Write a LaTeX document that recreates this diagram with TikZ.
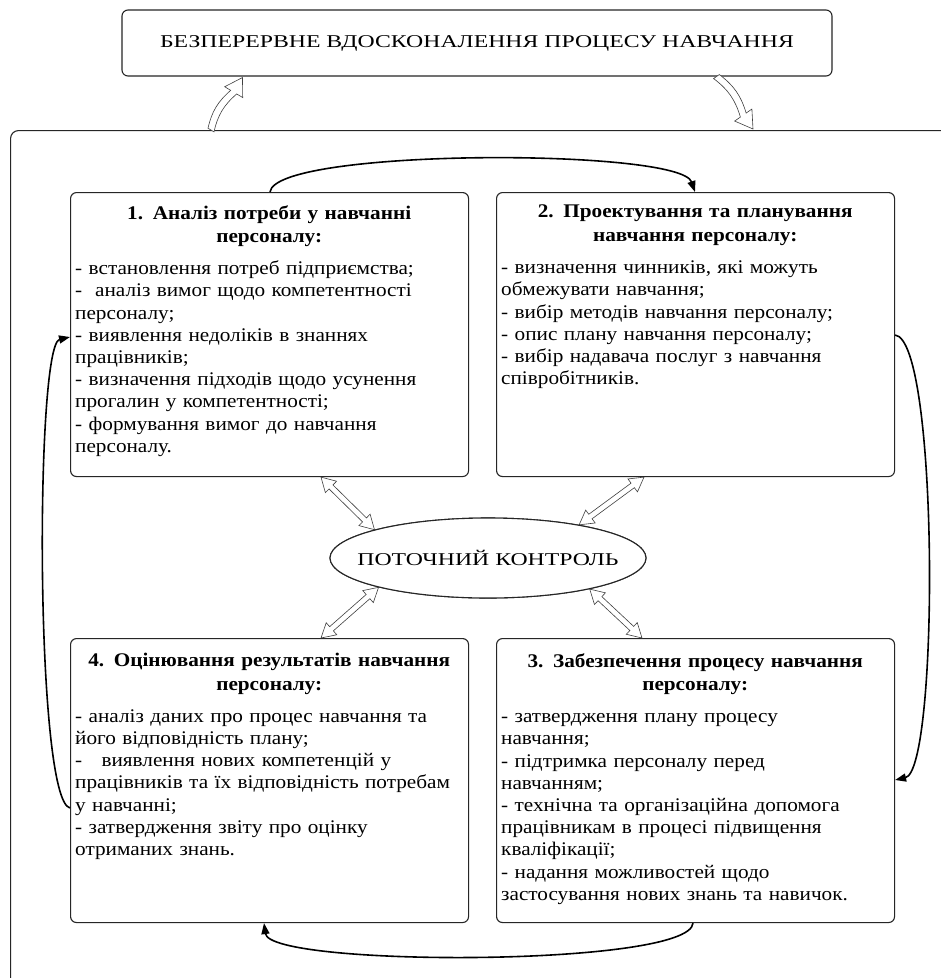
\documentclass[tikz,border=0pt]{standalone}
\usepackage{fontspec}
\setmainfont{Liberation Serif}[FakeStretch=1.1]
\newfontfamily\widefont{Liberation Serif}[FakeStretch=1.32]
\usetikzlibrary{calc,shapes.geometric,arrows.meta}

\tikzset{
  box/.style={draw=black!85, line width=1.1pt, rounded corners=6pt,
    minimum width=398pt, minimum height=284pt, anchor=north west, inner sep=0pt},
  boxtext/.style={anchor=north west, align=left, inner sep=0pt, text width=388pt,
    font=\fontsize{19.3}{22.2}\selectfont},
  topbox/.style={draw=black!85, line width=1.1pt, rounded corners=6pt,
    minimum width=710pt, minimum height=66pt, inner sep=0pt,
    font=\widefont\fontsize{18}{22}\selectfont},
  framebox/.style={draw=black!85, line width=1.1pt, rounded corners=8pt,
    minimum width=1000pt, minimum height=900pt, anchor=north west, inner sep=0pt},
  ctrl/.style={draw=black!85, line width=1.1pt, fill=white, ellipse, minimum width=316pt,
    minimum height=80pt, inner sep=0pt},
  ctrltext/.style={inner sep=0pt, font=\widefont\fontsize{18}{22}\selectfont},
  flow/.style={line width=1.6pt, black, -{Triangle[length=11pt,width=8pt]}},
  harrow/.style={draw=black!75, line width=0.6pt, fill=white, line join=miter},
}
\newcommand\boxhead[1]{{\centering\bfseries\fontsize{19.3}{23.5}\selectfont #1\par}\vspace{10pt}}

% double-headed hollow arrow: #1 prefix, #2 start, #3 end
\newcommand\hollowdbl[3]{%
  \path (#2) coordinate (#1a) (#3) coordinate (#1b);
  \path ($(#1a)!14pt!(#1b)$) coordinate (#1p) ($(#1b)!14pt!(#1a)$) coordinate (#1q);
  \draw[harrow] (#1a) -- ($(#1p)!8pt!90:(#1b)$) -- ($(#1p)!2.8pt!90:(#1b)$)
    -- ($(#1q)!2.8pt!90:(#1b)$) -- ($(#1q)!8pt!90:(#1b)$) -- (#1b)
    -- ($(#1q)!8pt!-90:(#1b)$) -- ($(#1q)!2.8pt!-90:(#1b)$)
    -- ($(#1p)!2.8pt!-90:(#1b)$) -- ($(#1p)!8pt!-90:(#1b)$) -- cycle;
}
% single hollow arrow with bent shaft: #1 prefix, #2 start, #3 end, #4 bend
\newcommand\hollowone[4]{%
  \path (#2) coordinate (#1a) (#3) coordinate (#1b);
  \path ($(#1b)!17pt!(#1a)$) coordinate (#1q);
  \draw[harrow] ($(#1a)!3.5pt!90:(#1b)$) to[bend left=#4] ($(#1q)!3.5pt!90:(#1b)$)
    -- ($(#1q)!10.5pt!90:(#1b)$) -- (#1b) -- ($(#1q)!10.5pt!-90:(#1b)$)
    -- ($(#1q)!3.5pt!-90:(#1b)$) to[bend right=#4] ($(#1a)!3.5pt!-90:(#1b)$) -- cycle;
}

\begin{document}
\begin{tikzpicture}[x=1pt,y=-1pt]
\useasboundingbox (0,0) rectangle (941,978);
\clip (0,0) rectangle (941,978);
\fill[white] (0,0) rectangle (941,978);

% outer frame and top box
\node[framebox] (frame) at (10,130) {};
\node[topbox] (top) at (477,43) {БЕЗПЕРЕРВНЕ ВДОСКОНАЛЕННЯ ПРОЦЕСУ НАВЧАННЯ};

% boxes
\node[box] (b1) at (70,192) {};
\node[box] (b2) at (496,192) {};
\node[box] (b4) at (70,638) {};
\node[box] (b3) at (496,638) {};

\node[boxtext] (t1) at ($(b1.north west)+(5,13)$) {%
\boxhead{1. Аналіз потреби у навчанні\\ персоналу:}
- встановлення потреб підприємства;\\
-~~аналіз вимог щодо компетентності\\
персоналу;\\
- виявлення недоліків в знаннях\\
працівників;\\
- визначення підходів щодо усунення\\
прогалин у компетентності;\\
- формування вимог до навчання\\
персоналу.};

\node[boxtext] (t2) at ($(b2.north west)+(5,13)$) {%
\boxhead{2. Проектування та планування\\ навчання персоналу:}
- визначення чинників, які можуть\\
обмежувати навчання;\\
- вибір методів навчання персоналу;\\
- опис плану навчання персоналу;\\
- вибір надавача послуг з навчання\\
співробітників.};

\node[boxtext] (t4) at ($(b4.north west)+(5,15)$) {%
\boxhead{4. Оцінювання результатів навчання\\ персоналу:}
- аналіз даних про процес навчання та\\
його відповідність плану;\\
-~~~виявлення нових компетенцій у\\
працівників та їх відповідність потребам\\
у навчанні;\\
- затвердження звіту про оцінку\\
отриманих знань.};

\node[boxtext] (t3) at ($(b3.north west)+(5,15)$) {%
\boxhead{3. Забезпечення процесу навчання\\ персоналу:}
- затвердження плану процесу\\
навчання;\\
- підтримка персоналу перед\\
навчанням;\\
- технічна та організаційна допомога\\
працівникам в процесі підвищення\\
кваліфікації;\\
- надання можливостей щодо\\
застосування нових знань та навичок.};

% hollow double arrows
\coordinate (ellc) at (488,558);
\node[ctrl] (ell) at (ellc) {};
\hollowdbl{ha}{$(b1.south west)+(251,0)$}{ell.166}
\hollowdbl{hb}{$(b2.south west)+(148,0)$}{ell.20}
\hollowdbl{hc}{$(b4.north west)+(251,0)$}{ell.195}
\hollowdbl{hd}{$(b3.north west)+(146,0)$}{ell.343}

% central ellipse on top
\node[ctrl] (ellfront) at (ellc) {};
\node[ctrltext] (elltext) at (ellfront.center) {ПОТОЧНИЙ КОНТРОЛЬ};

% hollow arrows to/from top box
\hollowone{ua}{$(frame.north west)+(201,0)$}{$(top.south west)+(121,1)$}{18}
\hollowone{ub}{$(top.south west)+(595,0)$}{$(frame.north west)+(743,-1)$}{18}

% cycle arrows
\draw[flow] ($(b1.north west)+(200,0)$) .. controls +(5,-44) and +(-15,-44) .. ($(b2.north west)+(199,0)$);
\draw[flow] ($(b2.north east)+(0,143)$) .. controls +(44,5) and +(44,-10) .. ($(b3.north east)+(0,142)$);
\draw[flow] ($(b3.south west)+(197,0)$) .. controls +(-3,44) and +(6,44) .. ($(b4.south west)+(194,0)$);
\draw[flow] ($(b4.north west)+(0,170)$) .. controls +(-35,-8) and +(-35,8) .. ($(b1.north west)+(0,145)$);
\end{tikzpicture}
\end{document}
